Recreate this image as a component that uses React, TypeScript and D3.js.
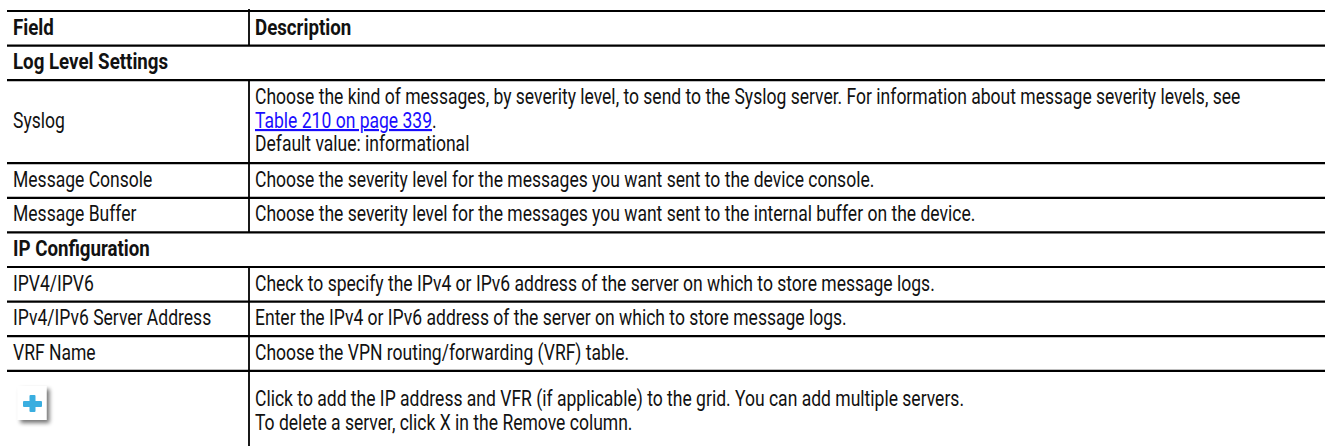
import React from "react";
import * as d3 from "d3";

const headers = ["Field", "Description"];
const sectionTitles = ["Log Level Settings", "IP Configuration"];
const logFields = ["Syslog", "Message Console", "Message Buffer"];
const logDescriptions = [
  [
    "Choose the kind of messages, by severity level, to send to the Syslog server. For information about message severity levels, see",
    "[Table 210 on page 339].",
    "Default value: informational",
  ],
  ["Choose the severity level for the messages you want sent to the device console."],
  ["Choose the severity level for the messages you want sent to the internal buffer on the device."],
];
const ipFields = ["IPV4/IPV6", "IPv4/IPv6 Server Address", "VRF Name", "+"];
const ipDescriptions = [
  ["Check to specify the IPv4 or IPv6 address of the server on which to store message logs."],
  ["Enter the IPv4 or IPv6 address of the server on which to store message logs."],
  ["Choose the VPN routing/forwarding (VRF) table."],
  [
    "Click to add the IP address and VFR (if applicable) to the grid. You can add multiple servers.",
    "To delete a server, click X in the Remove column.",
  ],
];

type Row = { kind: "header" | "section" | "data"; field: string; desc: string[] };

const rows: Row[] = [
  { kind: "header", field: headers[0], desc: [headers[1]] },
  { kind: "section", field: sectionTitles[0], desc: [] },
  ...logFields.map((f, i) => ({ kind: "data" as const, field: f, desc: logDescriptions[i] })),
  { kind: "section", field: sectionTitles[1], desc: [] },
  ...ipFields.map((f, i) => ({ kind: "data" as const, field: f, desc: ipDescriptions[i] })),
];

const W = 1325;
const H = 446;
const LEFT = 7;
const DIVIDER_X = 249;
const TOP = 11;
const BASE_ROW = 34.6;
const EXTRA_LINE = 24.2;
const LINE_H = 23.5;
const ICON_ROW = 82;
const FONT = "Roboto, 'Noto Sans', sans-serif";
const FS = 21.5;
const SX = 0.815;
const SXB = 0.87;
const INK = "#111";
const LINK = "#1a0dff";

function parse(line: string) {
  const segs: { t: string; link: boolean }[] = [];
  const re = /\[([^\]]+)\]/g;
  let last = 0;
  let m;
  while ((m = re.exec(line))) {
    if (m.index > last) segs.push({ t: line.slice(last, m.index), link: false });
    segs.push({ t: m[1], link: true });
    last = m.index + m[0].length;
  }
  if (last < line.length) segs.push({ t: line.slice(last), link: false });
  return segs;
}

function rowHeight(r: Row) {
  if (r.field === "+") return ICON_ROW;
  const n = Math.max(1, r.desc.length);
  return BASE_ROW + (n - 1) * EXTRA_LINE;
}

export default function App() {
  const heights = rows.map(rowHeight);
  const ends = Array.from(d3.cumsum(heights)).map((v) => v + TOP);
  const starts = ends.map((e, i) => e - heights[i]);
  const x = d3.scaleLinear().domain([0, 1]).range([LEFT, W]);

  const textAt = (
    key: string,
    tx: number,
    ty: number,
    content: React.ReactNode,
    bold: boolean
  ) => (
    <text
      key={key}
      transform={`translate(${tx},${ty}) scale(${bold ? SXB : SX},1)`}
      fontFamily={FONT}
      fontSize={FS}
      fontWeight={bold ? 700 : 400}
      fill={INK}
    >
      {content}
    </text>
  );

  return (
    <svg
      width={W}
      height={H}
      style={{ position: "absolute", left: 0, top: 0, background: "#fff" }}
    >
      <defs>
        <filter id="sh" x="-30%" y="-30%" width="180%" height="180%">
          <feGaussianBlur in="SourceAlpha" stdDeviation="2" />
          <feOffset dx="3" dy="3" result="b" />
          <feComponentTransfer>
            <feFuncA type="linear" slope="0.55" />
          </feComponentTransfer>
          <feMerge>
            <feMergeNode />
            <feMergeNode in="SourceGraphic" />
          </feMerge>
        </filter>
      </defs>
      <rect width={W} height={H} fill="#fff" />
      {rows.map((r, i) => {
        const y0 = starts[i];
        const y1 = ends[i];
        const h = y1 - y0;
        const cy = y0 + h / 2;
        const bold = r.kind !== "data";
        const n = r.desc.length;
        const out: React.ReactNode[] = [];
        if (r.kind !== "section") {
          out.push(
            <line
              key={`v${i}`}
              x1={DIVIDER_X}
              x2={DIVIDER_X}
              y1={i === 0 ? y0 - 2 : y0}
              y2={i === rows.length - 1 ? H : y1}
              stroke="#000"
              strokeWidth={1.8}
            />
          );
        }
        if (r.field === "+") {
          const ix = 17.5;
          const iy = 386;
          out.push(
            <g key={`ic${i}`}>
              <rect x={ix} y={iy} width={29} height={34} fill="#fff" filter="url(#sh)" />
              <rect x={ix + 5.5} y={iy + 15} width={19} height={6} fill="#3aaee0" rx={1} />
              <rect x={ix + 12} y={iy + 9} width={6} height={17} fill="#3aaee0" rx={1} />
            </g>
          );
        } else {
          out.push(textAt(`f${i}`, 13, cy + 6.2, r.field, bold));
        }
        r.desc.forEach((line, j) => {
          const by = cy + 6.2 + (j - (n - 1) / 2) * LINE_H;
          const segs = parse(line);
          out.push(
            textAt(
              `d${i}-${j}`,
              255,
              by,
              segs.map((s, k) => (
                <tspan
                  key={k}
                  fill={s.link ? LINK : INK}
                  textDecoration={s.link ? "underline" : undefined}
                  style={s.link ? { textDecoration: "underline" } : undefined}
                >
                  {s.t}
                </tspan>
              )),
              r.kind === "header"
            )
          );
        });
        return <g key={i}>{out}</g>;
      })}
      {[TOP, ...ends.slice(0, -1)].map((y, i) => (
        <line
          key={`h${i}`}
          x1={x(0)}
          x2={x(1)}
          y1={y}
          y2={y}
          stroke="#000"
          strokeWidth={2.2}
        />
      ))}
    </svg>
  );
}
